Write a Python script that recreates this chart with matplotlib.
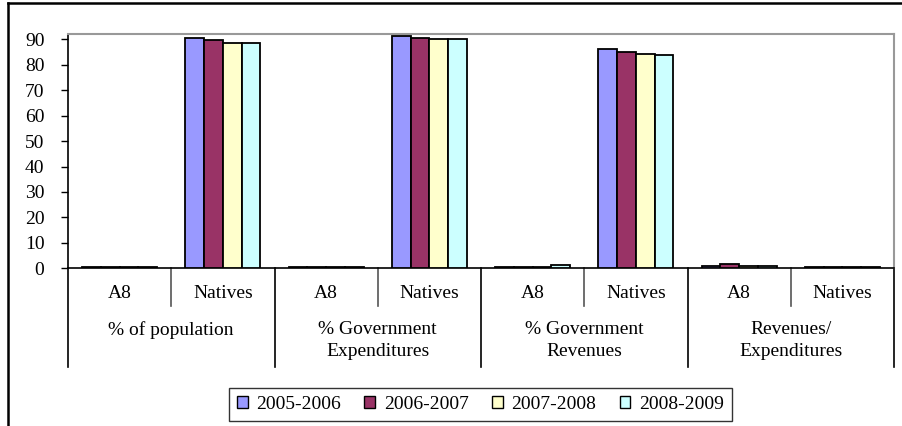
import numpy as np
import matplotlib
matplotlib.use('Agg')
import matplotlib.pyplot as plt
from matplotlib.patches import Patch
from matplotlib.lines import Line2D
import matplotlib.transforms as mtransforms

# data
categories = ['% of population', '% Government\nExpenditures',
              '% Government\nRevenues', 'Revenues/\nExpenditures']
groups = ['A8', 'Natives']
years = ['2005-2006', '2006-2007', '2007-2008', '2008-2009']
y2005 = [0.5, 90.5, 0.5, 91.3, 0.5, 86.2, 1.1, 0.5]
y2006 = [0.5, 89.9, 0.5, 90.6, 0.5, 85.0, 1.7, 0.5]
y2007 = [0.5, 88.6, 0.5, 90.0, 0.5, 84.4, 1.0, 0.5]
y2008 = [0.5, 88.6, 0.5, 90.0, 1.2, 83.8, 1.0, 0.5]
yticks = [0, 10, 20, 30, 40, 50, 60, 70, 80, 90]

colors = ['#9999FF', '#993366', '#FFFFCC', '#CCFFFF']
series = [y2005, y2006, y2007, y2008]

plt.rcParams['font.family'] = ['Liberation Serif', 'DejaVu Serif']
fs = 14

W, H = 902, 426
fig = plt.figure(figsize=(W / 100, H / 100), dpi=100)
x0, x1, ytop, ybot = 68, 894, 34, 268.3
ax = fig.add_axes([x0 / W, 1 - ybot / H, (x1 - x0) / W, (ybot - ytop) / H])

n = len(y2005)
x = np.arange(n) + 0.5
bw = 0.182
for j, vals in enumerate(series):
    ax.bar(x + (j - 1.5) * bw, vals, width=bw, color=colors[j],
           edgecolor='black', linewidth=1.3, label=years[j], zorder=3)

ax.set_xlim(0, n)
ax.set_ylim(0, 92.1)
ax.set_yticks(yticks)
ax.set_yticklabels([str(t) for t in yticks], fontsize=fs)
ax.tick_params(axis='y', direction='out', length=5, width=1, pad=12)
ax.set_xticks([])

for s in ['top', 'right']:
    ax.spines[s].set_color('#999999')
    ax.spines[s].set_linewidth(1.5)
for s in ['left', 'bottom']:
    ax.spines[s].set_color('black')
    ax.spines[s].set_linewidth(1.2)

# two level category axis
trans = mtransforms.blended_transform_factory(ax.transData, ax.transAxes)
ah = ybot - ytop
short_y = -(306 - ybot) / ah
long_y = -(367 - ybot) / ah
for i in range(n + 1):
    if i % 2 == 1:
        yy = short_y
        col = '#555555'
    else:
        yy = long_y
        col = 'black'
    ax.plot([i, i], [0, yy], transform=trans, color=col, lw=1.2, clip_on=False)

lab_y = -(293 - ybot) / ah
for i in range(n):
    ax.text(i + 0.5, lab_y, groups[i % 2], transform=trans, ha='center',
            va='center', fontsize=fs)

cat_y = -(321 - ybot) / ah
for k, c in enumerate(categories):
    ax.text(2 * k + 1, cat_y, c, transform=trans, ha='center', va='top',
            fontsize=fs, linespacing=1.4)

# legend
handles = [Patch(facecolor=colors[j], edgecolor='black', linewidth=1) for j in range(4)]
leg = fig.legend(handles, years, loc='center', bbox_to_anchor=(480.5 / W, 1 - 404.5 / H),
                 ncol=4, fontsize=fs, frameon=True, fancybox=False,
                 handlelength=0.55, handleheight=0.55, handletextpad=0.45,
                 columnspacing=1.2, borderpad=0.4, borderaxespad=0)
leg.get_frame().set_edgecolor('black')
leg.get_frame().set_linewidth(1)

# outer chart border (top and left visible)
fig.add_artist(Line2D([8 / W, 1], [1 - 3 / H, 1 - 3 / H], color='black', lw=1.8,
                      transform=fig.transFigure))
fig.add_artist(Line2D([8 / W, 8 / W], [0, 1 - 3 / H], color='black', lw=1.8,
                      transform=fig.transFigure))

fig.savefig('out.png', dpi=100)
